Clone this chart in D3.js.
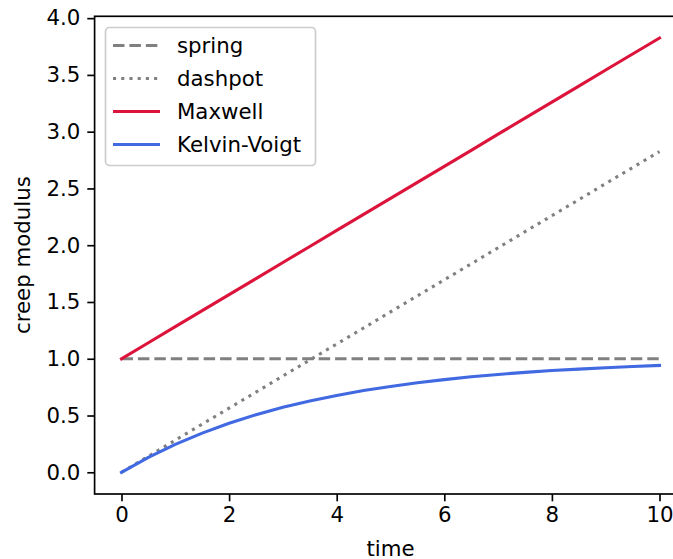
<!DOCTYPE html>
<html>
<head>
<meta charset="utf-8">
<script src="https://cdn.jsdelivr.net/npm/d3@7"></script>
<style>
  html, body { margin: 0; padding: 0; background: #fff; overflow: hidden; }
  svg { display: block; }
  text { font-family: "DejaVu Sans", sans-serif; fill: #000; }
</style>
</head>
<body>
<script>
// ---- data ----
const time = [0, 0.5, 1, 1.5, 2, 2.5, 3, 3.5, 4, 4.5, 5, 5.5, 6, 6.5, 7, 7.5, 8, 8.5, 9, 9.5, 10];
const spring = [1, 1, 1, 1, 1, 1, 1, 1, 1, 1, 1, 1, 1, 1, 1, 1, 1, 1, 1, 1, 1];
const dashpot = [0, 0.141, 0.283, 0.424, 0.565, 0.706, 0.848, 0.989, 1.130, 1.271, 1.413,
                 1.554, 1.695, 1.836, 1.978, 2.119, 2.260, 2.401, 2.543, 2.684, 2.825];
const maxwell = [1, 1.141, 1.283, 1.424, 1.565, 1.706, 1.848, 1.989, 2.130, 2.271, 2.413,
                 2.554, 2.695, 2.836, 2.978, 3.119, 3.260, 3.401, 3.543, 3.684, 3.825];
const kelvinVoigt = [0, 0.132, 0.246, 0.345, 0.432, 0.507, 0.572, 0.628, 0.677, 0.720, 0.756,
                     0.789, 0.816, 0.841, 0.862, 0.880, 0.896, 0.909, 0.921, 0.932, 0.941];
const seriesNames = ["spring", "dashpot", "Maxwell", "Kelvin-Voigt"];
const xTicks = [0, 2, 4, 6, 8, 10];
const yTicks = [0.0, 0.5, 1.0, 1.5, 2.0, 2.5, 3.0, 3.5, 4.0];

const W = 673, H = 559;
const FS = 21.3;
const LW = 3.1;

const x = d3.scaleLinear().domain([-0.5, 10.5]).range([94.6, 686.4]);
const y = d3.scaleLinear().domain([-0.19125, 4.01625]).range([494, 16.3]);

const svg = d3.select("body").append("svg").attr("width", W).attr("height", H);

const styles = [
  { color: "#808080", dash: (LW * 3.7) + "," + (LW * 1.6), cap: "butt" },
  { color: "#808080", dash: (LW * 1) + "," + (LW * 1.65), cap: "butt" },
  { color: "#DC143C", dash: null, cap: "square" },
  { color: "#4169E1", dash: null, cap: "square" }
];
const seriesData = [spring, dashpot, maxwell, kelvinVoigt];

// lines
const line = d3.line().x((d, i) => x(time[i])).y(d => y(d));
seriesData.forEach((s, k) => {
  svg.append("path")
    .datum(s)
    .attr("d", line)
    .attr("fill", "none")
    .attr("stroke", styles[k].color)
    .attr("stroke-width", LW)
    .attr("stroke-linecap", styles[k].cap)
    .attr("stroke-dasharray", styles[k].dash);
});

// axes
const xAxis = d3.axisBottom(x).tickValues(xTicks).tickFormat(d3.format("d"))
  .tickSizeInner(7.3).tickSizeOuter(0).tickPadding(6);
const yAxis = d3.axisLeft(y).tickValues(yTicks).tickFormat(d3.format(".1f"))
  .tickSizeInner(7.3).tickSizeOuter(0).tickPadding(7);

const gx = svg.append("g").attr("transform", `translate(0,${y.range()[0]})`).call(xAxis);
const gy = svg.append("g").attr("transform", `translate(${x.range()[0]},0)`).call(yAxis);
[gx, gy].forEach(g => {
  g.select(".domain").remove();
  g.selectAll(".tick line").attr("stroke", "#000").attr("stroke-width", 1.67);
  g.selectAll(".tick text").attr("font-size", FS).attr("font-family", "DejaVu Sans").attr("fill", "#000");
});

// spines
const [x0, x1] = x.range();
const [yb, yt] = y.range();
svg.append("rect")
  .attr("x", x0).attr("y", yt).attr("width", x1 - x0).attr("height", yb - yt)
  .attr("fill", "none").attr("stroke", "#000").attr("stroke-width", 1.67);

// axis labels
svg.append("text").attr("x", (x0 + x1) / 2).attr("y", 555.5)
  .attr("text-anchor", "middle").attr("font-size", FS).text("time");
svg.append("text")
  .attr("transform", `translate(30,${(yb + yt) / 2}) rotate(-90)`)
  .attr("text-anchor", "middle").attr("font-size", FS).text("creep modulus");

// legend
const lg = svg.append("g");
lg.append("rect")
  .attr("x", 105.5).attr("y", 27.5).attr("width", 210).attr("height", 138)
  .attr("rx", 4).attr("ry", 4)
  .attr("fill", "#fff").attr("fill-opacity", 0.8)
  .attr("stroke", "#cccccc").attr("stroke-width", 1.67);
seriesNames.forEach((name, k) => {
  const ry = 45.5 + k * 33;
  lg.append("line")
    .attr("x1", 113).attr("x2", 160).attr("y1", ry).attr("y2", ry)
    .attr("stroke", styles[k].color).attr("stroke-width", LW)
    .attr("stroke-dasharray", styles[k].dash);
  lg.append("text").attr("x", 177).attr("y", ry + 7.5)
    .attr("font-size", FS).text(name);
});
</script>
</body>
</html>
